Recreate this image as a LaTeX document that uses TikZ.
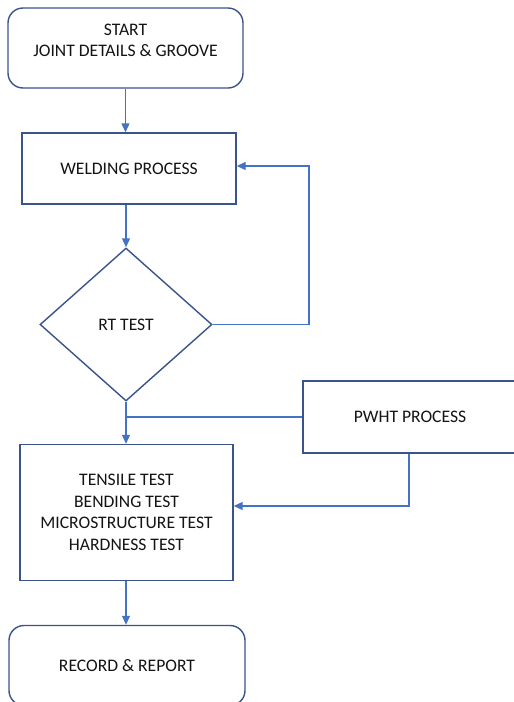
\documentclass[tikz,border=0pt]{standalone}
\usepackage{fontspec}
\setmainfont{Carlito}
\usetikzlibrary{shapes.geometric,arrows.meta,calc}
\definecolor{boxc}{RGB}{58,84,138}
\definecolor{linec}{RGB}{68,114,196}
\definecolor{txtc}{RGB}{20,20,20}
\tikzset{
  txt/.style={align=center, inner sep=0pt, text=txtc, font=\fontsize{17.6}{21.5}\selectfont},
  base/.style={txt, draw=boxc, line width=1.4pt, fill=white},
  rbox/.style={base, rectangle},
  roundbox/.style={base, rectangle, rounded corners=15pt},
  decision/.style={base, diamond},
  conn/.style={draw=linec, line width=1.2pt},
  arr/.style={conn, -{Triangle[width=8pt,length=9pt]}},
}
\begin{document}
\begin{tikzpicture}[x=1pt,y=-1pt]
\useasboundingbox (0,0) rectangle (514,702);
\clip (0,0) rectangle (514,702);
\node[roundbox, minimum width=235pt, minimum height=80pt] (start) at (125.5,48) {};
\node[txt, font=\fontsize{17.6}{20.5}\selectfont] (starttxt) at (125.5,40.5) {START\\JOINT DETAILS \& GROOVE};
\node[rbox, minimum width=214pt, minimum height=71pt] (weld) at (129,168.5) {WELDING PROCESS};
\node[decision, minimum width=172pt, minimum height=153pt] (rt) at (126,324.5) {RT TEST};
\node[rbox, minimum width=214pt, minimum height=72pt] (pwht) at (410,417) {PWHT PROCESS};
\node[rbox, minimum width=213pt, minimum height=136pt] (tests) at (126.5,512.5) {TENSILE TEST\\BENDING TEST\\MICROSTRUCTURE TEST\\HARDNESS TEST};
\node[roundbox, minimum width=236pt, minimum height=80pt] (rec) at (127,665.5) {RECORD \& REPORT};
\coordinate (fb) at (309,166);
\coordinate (jn) at (126,417);
\coordinate (pw) at (409,506);
\draw[arr] (start.south) -- (start.south |- weld.north);
\draw[arr] (rt.north |- weld.south) -- (rt.north);
\draw[arr] (rt.east) -| (fb) -- (weld.east |- fb);
\draw[arr] (rt.south) -- (rt.south |- tests.north);
\draw[conn] (jn) -- (pwht.west |- jn);
\draw[arr] (pw |- pwht.south) -- (pw) -- (tests.east |- pw);
\draw[arr] (rt.south |- tests.south) -- (rt.south |- rec.north);
\end{tikzpicture}
\end{document}
